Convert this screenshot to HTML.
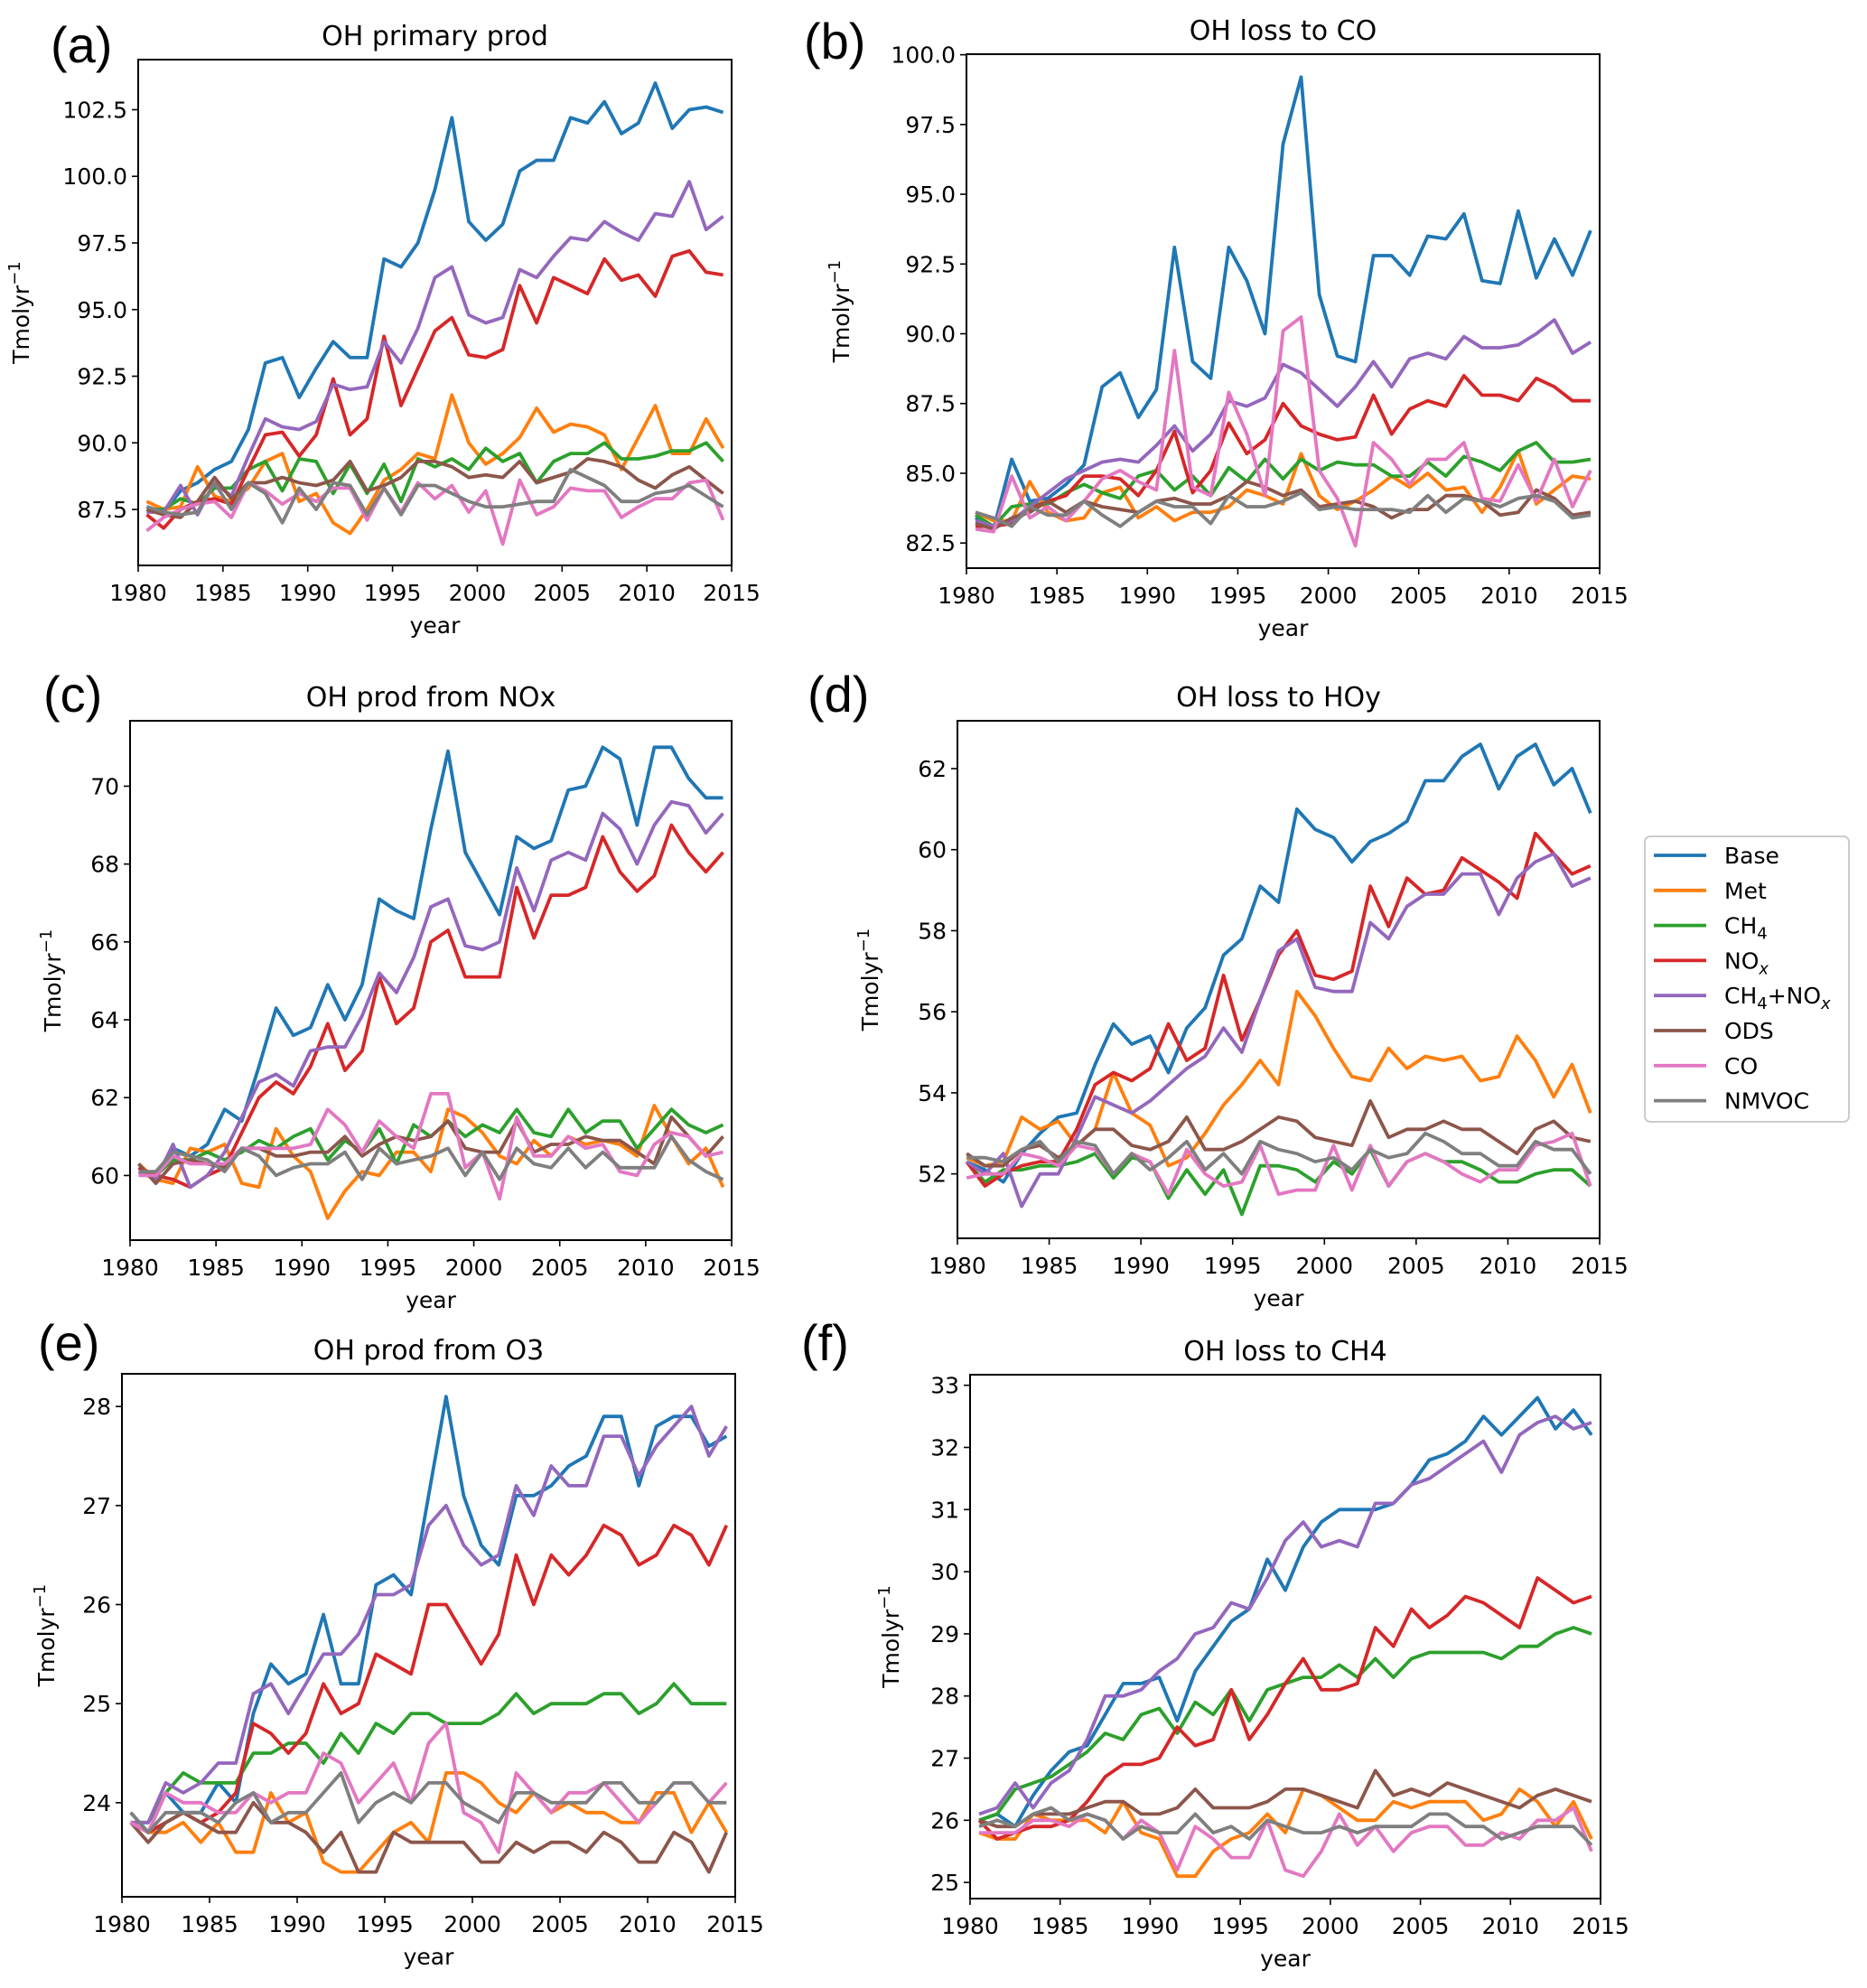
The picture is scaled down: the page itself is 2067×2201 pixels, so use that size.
<!DOCTYPE html>
<html><head><meta charset="utf-8"><style>
html,body{margin:0;padding:0;background:#fff;}
svg{display:block;font-family:"DejaVu Sans","Liberation Sans",sans-serif;}
</style></head><body>
<svg id="fig" width="2067" height="2201" viewBox="0 0 2067 2201" xmlns="http://www.w3.org/2000/svg"></svg>
<script>
const years=[];for(let i=0;i<35;i++)years.push(1980.5+i);
const seriesNames=["Base","Met","CH4","NOx","CH4+NOx","ODS","CO","NMVOC"];
const colors=["#1f77b4","#ff7f0e","#2ca02c","#d62728","#9467bd","#8c564b","#e377c2","#7f7f7f"];
const xTicks=[1980,1985,1990,1995,2000,2005,2010,2015];

const aBase=[87.6,87.4,88.2,88.5,89.0,89.3,90.5,93.0,93.2,91.7,92.8,93.8,93.2,93.2,96.9,96.6,97.5,99.5,102.2,98.3,97.6,98.2,100.2,100.6,100.6,102.2,102.0,102.8,101.6,102.0,103.5,101.8,102.5,102.6,102.4];
const aMet=[87.8,87.5,87.6,89.1,88.0,87.8,88.3,89.3,89.6,87.8,88.1,87.0,86.6,87.5,88.6,89.0,89.6,89.4,91.8,90.0,89.2,89.6,90.2,91.3,90.4,90.7,90.6,90.3,89.0,90.2,91.4,89.6,89.6,90.9,89.8];
const aCH4=[87.5,87.5,87.9,87.7,88.3,88.3,89.0,89.3,88.2,89.4,89.3,88.1,89.2,88.1,89.2,87.8,89.4,89.1,89.4,89.0,89.8,89.3,89.6,88.5,89.3,89.6,89.6,90.0,89.4,89.4,89.5,89.7,89.7,90.0,89.3];
const aNOx=[87.3,86.8,87.5,87.8,87.9,87.7,89.0,90.3,90.4,89.5,90.3,92.4,90.3,90.9,94.0,91.4,92.8,94.2,94.7,93.3,93.2,93.5,95.9,94.5,96.2,95.9,95.6,96.9,96.1,96.3,95.5,97.0,97.2,96.4,96.3];
const aCH4NOx=[87.4,87.4,88.4,87.3,88.5,88.0,89.5,90.9,90.6,90.5,90.8,92.2,92.0,92.1,93.8,93.0,94.3,96.2,96.6,94.8,94.5,94.7,96.5,96.2,97.0,97.7,97.6,98.3,97.9,97.6,98.6,98.5,99.8,98.0,98.5];
const aODS=[87.5,87.3,87.2,87.8,88.7,87.9,88.5,88.5,88.7,88.5,88.4,88.6,89.3,88.2,88.4,88.7,89.3,89.3,89.1,88.7,88.8,88.7,89.3,88.5,88.7,88.9,89.4,89.3,89.1,88.6,88.3,88.8,89.1,88.6,88.1];
const aCO=[86.7,87.2,87.5,87.7,87.8,87.2,88.5,88.2,87.7,88.1,87.8,88.3,88.3,87.1,88.3,87.4,88.5,87.9,88.4,87.4,88.2,86.2,88.6,87.3,87.6,88.3,88.2,88.2,87.2,87.6,87.9,87.9,88.5,88.6,87.1];
const aNMVOC=[87.6,87.4,87.3,87.4,88.5,87.5,88.5,88.1,87.0,88.3,87.5,88.5,88.4,87.3,88.3,87.3,88.4,88.4,88.1,87.8,87.6,87.6,87.7,87.8,87.8,89.0,88.7,88.4,87.8,87.8,88.1,88.2,88.4,88.0,87.6];

const bBase=[83.4,83.0,85.5,84.0,84.1,84.6,85.3,88.1,88.6,87.0,88.0,93.1,89.0,88.4,93.1,91.9,90.0,96.8,99.2,91.4,89.2,89.0,92.8,92.8,92.1,93.5,93.4,94.3,91.9,91.8,94.4,92.0,93.4,92.1,93.7];
const bMet=[83.6,83.3,83.3,84.7,83.6,83.3,83.4,84.3,84.5,83.4,83.8,83.3,83.6,83.6,83.8,84.4,84.2,83.9,85.7,84.2,83.7,84.0,84.4,84.9,84.5,85.0,84.4,84.5,83.6,84.5,85.8,83.9,84.4,84.9,84.8];
const bCH4=[83.5,83.1,83.8,83.9,83.9,84.3,84.6,84.3,84.1,84.9,85.1,84.4,84.9,84.2,85.2,84.7,85.5,84.8,85.5,85.1,85.4,85.3,85.3,84.9,84.9,85.4,84.9,85.6,85.4,85.1,85.8,86.1,85.4,85.4,85.5];
const bNOx=[83.1,83.1,83.2,83.7,84.0,84.2,84.9,84.9,84.8,84.2,85.1,86.5,84.3,85.1,86.8,85.7,86.2,87.5,86.7,86.4,86.2,86.3,87.8,86.4,87.3,87.6,87.4,88.5,87.8,87.8,87.6,88.4,88.1,87.6,87.6];
const bCH4NOx=[83.3,83.1,83.3,83.8,84.3,84.8,85.1,85.4,85.5,85.4,86.0,86.7,85.8,86.4,87.6,87.4,87.7,88.9,88.6,88.0,87.4,88.1,89.0,88.1,89.1,89.3,89.1,89.9,89.5,89.5,89.6,90.0,90.5,89.3,89.7];
const bODS=[83.2,83.0,83.4,83.6,84.0,83.6,84.0,83.8,83.7,83.6,84.0,84.1,83.9,83.9,84.2,84.7,84.5,84.2,84.4,83.8,83.9,84.0,83.8,83.4,83.7,83.7,84.2,84.2,84.0,83.5,83.6,84.4,84.1,83.5,83.6];
const bCO=[83.0,82.9,84.9,83.4,83.8,83.3,84.0,84.8,85.1,84.7,84.4,89.4,84.5,84.2,87.9,86.4,84.2,90.1,90.6,85.1,84.1,82.4,86.1,85.5,84.6,85.5,85.5,86.1,84.1,84.0,85.3,84.0,85.5,83.8,85.1];
const bNMVOC=[83.6,83.4,83.1,83.8,83.5,83.5,84.0,83.5,83.1,83.6,84.0,83.8,83.8,83.2,84.2,83.8,83.8,84.0,84.3,83.7,83.8,83.7,83.7,83.7,83.6,84.2,83.6,84.1,84.0,83.8,84.1,84.2,84.0,83.4,83.5];

const cBase=[60.2,60.0,60.7,60.5,60.8,61.7,61.4,62.8,64.3,63.6,63.8,64.9,64.0,64.9,67.1,66.8,66.6,68.9,70.9,68.3,67.5,66.7,68.7,68.4,68.6,69.9,70.0,71.0,70.7,69.0,71.0,71.0,70.2,69.7,69.7];
const cMet=[60.3,59.9,59.8,60.7,60.6,60.8,59.8,59.7,61.2,60.5,60.1,58.9,59.6,60.1,60.0,60.6,60.6,60.1,61.7,61.5,61.1,60.5,60.3,60.9,60.5,61.0,60.8,60.9,60.8,60.5,61.8,61.0,60.3,60.7,59.7];
const cCH4=[60.2,60.0,60.4,60.4,60.6,60.4,60.6,60.9,60.7,61.0,61.2,60.4,60.9,60.6,61.2,60.3,61.3,61.0,61.4,61.0,61.3,61.1,61.7,61.1,61.0,61.7,61.1,61.4,61.4,60.7,61.2,61.7,61.3,61.1,61.3];
const cNOx=[60.2,60.0,59.9,59.7,60.0,60.2,61.1,62.0,62.4,62.1,62.8,63.9,62.7,63.2,65.1,63.9,64.3,66.0,66.3,65.1,65.1,65.1,67.4,66.1,67.2,67.2,67.4,68.7,67.8,67.3,67.7,69.0,68.3,67.8,68.3];
const cCH4NOx=[60.1,59.9,60.8,59.7,60.0,60.6,61.5,62.4,62.6,62.3,63.2,63.3,63.3,64.1,65.2,64.7,65.6,66.9,67.1,65.9,65.8,66.0,67.9,66.8,68.1,68.3,68.1,69.3,68.9,68.0,69.0,69.6,69.5,68.8,69.3];
const cODS=[60.3,59.8,60.3,60.4,60.3,60.2,60.7,60.7,60.5,60.5,60.6,60.6,61.0,60.5,60.8,61.0,60.9,61.0,61.4,60.7,60.6,60.6,61.4,60.6,60.8,60.8,61.0,60.9,60.9,60.6,60.3,61.5,61.0,60.5,61.0];
const cCO=[60.0,60.0,60.5,60.3,60.3,60.3,60.7,60.7,60.7,60.7,60.8,61.7,61.3,60.6,61.4,61.0,60.7,62.1,62.1,60.2,60.6,59.4,61.5,60.5,60.5,61.0,60.7,60.8,60.1,60.0,60.8,61.1,61.0,60.5,60.6];
const cNMVOC=[60.1,60.1,60.6,60.5,60.4,60.1,60.7,60.5,60.0,60.2,60.3,60.3,60.6,59.9,60.7,60.3,60.4,60.5,60.7,60.0,60.6,59.9,60.7,60.3,60.2,60.7,60.2,60.6,60.2,60.2,60.2,61.0,60.4,60.1,59.9];

const dBase=[52.3,52.1,51.8,52.5,53.0,53.4,53.5,54.7,55.7,55.2,55.4,54.5,55.6,56.1,57.4,57.8,59.1,58.7,61.0,60.5,60.3,59.7,60.2,60.4,60.7,61.7,61.7,62.3,62.6,61.5,62.3,62.6,61.6,62.0,60.9];
const dMet=[52.4,52.2,52.3,53.4,53.1,53.3,52.7,53.1,54.5,53.5,53.2,52.2,52.4,53.0,53.7,54.2,54.8,54.2,56.5,55.9,55.1,54.4,54.3,55.1,54.6,54.9,54.8,54.9,54.3,54.4,55.4,54.8,53.9,54.7,53.5];
const dCH4=[52.3,51.8,52.1,52.1,52.2,52.2,52.3,52.5,51.9,52.4,52.3,51.4,52.1,51.5,52.1,51.0,52.2,52.2,52.1,51.8,52.3,52.0,52.6,51.7,52.3,52.5,52.3,52.3,52.1,51.8,51.8,52.0,52.1,52.1,51.7];
const dNOx=[52.3,51.7,52.0,52.2,52.3,52.3,53.1,54.2,54.5,54.3,54.6,55.7,54.8,55.1,56.9,55.3,56.3,57.4,58.0,56.9,56.8,57.0,59.1,58.1,59.3,58.9,59.0,59.8,59.5,59.2,58.8,60.4,59.9,59.4,59.6];
const dCH4NOx=[52.3,52.0,52.5,51.2,52.0,52.0,52.9,53.9,53.7,53.5,53.8,54.2,54.6,54.9,55.6,55.0,56.3,57.5,57.8,56.6,56.5,56.5,58.2,57.8,58.6,58.9,58.9,59.4,59.4,58.4,59.3,59.7,59.9,59.1,59.3];
const dODS=[52.5,52.2,52.2,52.6,52.7,52.4,52.7,53.1,53.1,52.7,52.6,52.8,53.4,52.6,52.6,52.8,53.1,53.4,53.3,52.9,52.8,52.7,53.8,52.9,53.1,53.1,53.3,53.1,53.1,52.8,52.5,53.1,53.3,52.9,52.8];
const dCO=[51.9,52.0,52.0,52.5,52.4,52.2,52.7,52.6,52.0,52.5,52.3,51.5,52.6,52.0,51.7,51.8,52.7,51.5,51.6,51.6,52.7,51.6,52.7,51.7,52.3,52.5,52.3,52.0,51.8,52.1,52.1,52.7,52.8,53.0,51.7];
const dNMVOC=[52.4,52.4,52.3,52.6,52.8,52.3,52.8,52.7,52.0,52.5,52.1,52.4,52.8,52.1,52.5,52.0,52.8,52.6,52.5,52.3,52.4,52.1,52.6,52.4,52.5,53.0,52.8,52.5,52.5,52.2,52.2,52.8,52.6,52.6,52.0];

const eBase=[23.9,23.7,24.1,23.9,23.9,24.2,24.0,24.9,25.4,25.2,25.3,25.9,25.2,25.2,26.2,26.3,26.1,27.1,28.1,27.1,26.6,26.4,27.1,27.1,27.2,27.4,27.5,27.9,27.9,27.2,27.8,27.9,27.9,27.6,27.7];
const eMet=[23.8,23.7,23.7,23.8,23.6,23.8,23.5,23.5,24.1,23.8,23.9,23.4,23.3,23.3,23.5,23.7,23.8,23.6,24.3,24.3,24.2,24.0,23.9,24.1,23.9,24.0,23.9,23.9,23.8,23.8,24.1,24.1,23.7,24.0,23.7];
const eCH4=[23.8,23.8,24.1,24.3,24.2,24.2,24.2,24.5,24.5,24.6,24.6,24.4,24.7,24.5,24.8,24.7,24.9,24.9,24.8,24.8,24.8,24.9,25.1,24.9,25.0,25.0,25.0,25.1,25.1,24.9,25.0,25.2,25.0,25.0,25.0];
const eNOx=[23.8,23.7,23.8,23.9,23.8,23.9,24.1,24.8,24.7,24.5,24.7,25.2,24.9,25.0,25.5,25.4,25.3,26.0,26.0,25.7,25.4,25.7,26.5,26.0,26.5,26.3,26.5,26.8,26.7,26.4,26.5,26.8,26.7,26.4,26.8];
const eCH4NOx=[23.8,23.8,24.2,24.1,24.2,24.4,24.4,25.1,25.2,24.9,25.2,25.5,25.5,25.7,26.1,26.1,26.2,26.8,27.0,26.6,26.4,26.5,27.2,26.9,27.4,27.2,27.2,27.7,27.7,27.3,27.6,27.8,28.0,27.5,27.8];
const eODS=[23.8,23.6,23.8,23.9,23.8,23.7,23.7,24.0,23.8,23.8,23.7,23.5,23.7,23.3,23.3,23.7,23.6,23.6,23.6,23.6,23.4,23.4,23.6,23.5,23.6,23.6,23.5,23.7,23.6,23.4,23.4,23.7,23.6,23.3,23.7];
const eCO=[23.8,23.7,24.1,24.0,24.0,23.9,23.9,24.1,24.0,24.1,24.1,24.5,24.4,24.0,24.2,24.4,24.0,24.6,24.8,23.9,23.8,23.5,24.3,24.1,23.9,24.1,24.1,24.2,24.0,23.8,24.0,24.2,24.2,24.0,24.2];
const eNMVOC=[23.9,23.7,23.9,23.9,23.9,23.8,24.0,24.1,23.8,23.9,23.9,24.1,24.3,23.8,24.0,24.1,24.0,24.2,24.2,24.0,23.9,23.8,24.1,24.1,24.0,24.0,24.0,24.2,24.2,24.0,24.0,24.2,24.2,24.0,24.0];

const fBase=[26.0,26.1,25.9,26.4,26.8,27.1,27.2,27.7,28.2,28.2,28.3,27.6,28.4,28.8,29.2,29.4,30.2,29.7,30.4,30.8,31.0,31.0,31.0,31.1,31.4,31.8,31.9,32.1,32.5,32.2,32.5,32.8,32.3,32.6,32.2];
const fMet=[25.8,25.7,25.7,26.1,26.0,26.0,26.0,25.8,26.3,25.8,25.7,25.1,25.1,25.5,25.7,25.8,26.1,25.8,26.5,26.4,26.2,26.0,26.0,26.3,26.2,26.3,26.3,26.3,26.0,26.1,26.5,26.3,25.9,26.3,25.7];
const fCH4=[26.0,26.1,26.5,26.6,26.7,26.9,27.1,27.4,27.3,27.7,27.8,27.4,27.9,27.7,28.1,27.6,28.1,28.2,28.3,28.3,28.5,28.3,28.6,28.3,28.6,28.7,28.7,28.7,28.7,28.6,28.8,28.8,29.0,29.1,29.0];
const fNOx=[26.0,25.7,25.8,25.9,25.9,26.0,26.3,26.7,26.9,26.9,27.0,27.5,27.2,27.3,28.1,27.3,27.7,28.2,28.6,28.1,28.1,28.2,29.1,28.8,29.4,29.1,29.3,29.6,29.5,29.3,29.1,29.9,29.7,29.5,29.6];
const fCH4NOx=[26.1,26.2,26.6,26.2,26.6,26.8,27.3,28.0,28.0,28.1,28.4,28.6,29.0,29.1,29.5,29.4,29.9,30.5,30.8,30.4,30.5,30.4,31.1,31.1,31.4,31.5,31.7,31.9,32.1,31.6,32.2,32.4,32.5,32.3,32.4];
const fODS=[26.0,25.9,25.9,26.1,26.1,26.1,26.2,26.3,26.3,26.1,26.1,26.2,26.5,26.2,26.2,26.2,26.3,26.5,26.5,26.4,26.3,26.2,26.8,26.4,26.5,26.4,26.6,26.5,26.4,26.3,26.2,26.4,26.5,26.4,26.3];
const fCO=[25.8,25.8,25.8,26.0,26.0,25.9,26.1,26.0,25.7,26.0,25.8,25.2,25.9,25.7,25.4,25.4,26.0,25.2,25.1,25.5,26.1,25.6,25.9,25.5,25.8,25.9,25.9,25.6,25.6,25.8,25.7,26.0,26.0,26.2,25.5];
const fNMVOC=[25.9,26.0,25.9,26.1,26.2,26.0,26.1,26.0,25.7,25.9,25.8,25.8,26.1,25.8,25.9,25.7,26.0,25.9,25.8,25.8,25.9,25.8,25.9,25.9,25.9,26.1,26.1,25.9,25.9,25.7,25.8,25.9,25.9,25.9,25.6];

const aTicks=[87.5,90.0,92.5,95.0,97.5,100.0,102.5];
const bTicks=[82.5,85.0,87.5,90.0,92.5,95.0,97.5,100.0];
const cTicks=[60,62,64,66,68,70];
const dTicks=[52,54,56,58,60,62];
const eTicks=[24,25,26,27,28];
const fTicks=[25,26,27,28,29,30,31,32,33];

const panels=[
 {id:"a",title:"OH primary prod",L:153,R:810,T:66,B:626,ymin:85.4,ymax:104.38,ticks:aTicks,dec:1,data:[aBase,aMet,aCH4,aNOx,aCH4NOx,aODS,aCO,aNMVOC],lx:56,ly:49,ylx:32},
 {id:"b",title:"OH loss to CO",L:1070,R:1771,T:60,B:629,ymin:81.6,ymax:100.02,ticks:bTicks,dec:1,data:[bBase,bMet,bCH4,bNOx,bCH4NOx,bODS,bCO,bNMVOC],lx:890,ly:45,ylx:940},
 {id:"c",title:"OH prod from NOx",L:144,R:810,T:798,B:1373,ymin:58.34,ymax:71.68,ticks:cTicks,dec:0,data:[cBase,cMet,cCH4,cNOx,cCH4NOx,cODS,cCO,cNMVOC],lx:48,ly:768,ylx:67},
 {id:"d",title:"OH loss to HOy",L:1060,R:1771,T:798,B:1371,ymin:50.41,ymax:63.18,ticks:dTicks,dec:0,data:[dBase,dMet,dCH4,dNOx,dCH4NOx,dODS,dCO,dNMVOC],lx:894,ly:768,ylx:972},
 {id:"e",title:"OH prod from O3",L:135,R:814,T:1521,B:2100,ymin:23.05,ymax:28.33,ticks:eTicks,dec:0,data:[eBase,eMet,eCH4,eNOx,eCH4NOx,eODS,eCO,eNMVOC],lx:42,ly:1486,ylx:60},
 {id:"f",title:"OH loss to CH4",L:1074,R:1772,T:1522,B:2102,ymin:24.74,ymax:33.17,ticks:fTicks,dec:0,data:[fBase,fMet,fCH4,fNOx,fCH4NOx,fODS,fCO,fNMVOC],lx:887,ly:1486,ylx:995}
];
const NS="http://www.w3.org/2000/svg";
const svg=document.getElementById("fig");
function mk(tag,attrs,parent,text){const e=document.createElementNS(NS,tag);for(const k in attrs)e.setAttribute(k,attrs[k]);if(text!==undefined)e.textContent=text;(parent||svg).appendChild(e);return e;}

panels.forEach(p=>{
  const g=mk("g",{});
  
  
  const xs=v=>p.L+(v-1980)/35*(p.R-p.L);
  const ys=v=>p.B-(v-p.ymin)/(p.ymax-p.ymin)*(p.B-p.T);
  p.data.forEach((arr,si)=>{
    const pts=arr.map((v,i)=>xs(years[i]).toFixed(1)+","+ys(v).toFixed(1)).join(" ");
    const pl=mk("polyline",{points:pts,fill:"none",stroke:colors[si],"stroke-width":3.8,"stroke-linejoin":"round"},g);
    
    
  });
  const fr=mk("rect",{x:p.L,y:p.T,width:p.R-p.L,height:p.B-p.T,fill:"none",stroke:"#000","stroke-width":2},g);
  
  
  xTicks.forEach(t=>{
    const x=xs(t);
    mk("line",{x1:x,x2:x,y1:p.B,y2:p.B+7,stroke:"#000","stroke-width":1.6},g);
    const tl=mk("text",{x:x,y:p.B+39,"text-anchor":"middle","font-size":25,fill:"#000"},g,String(t));
    
    
  });
  p.ticks.forEach(t=>{
    const y=ys(t);
    mk("line",{x1:p.L-7,x2:p.L,y1:y,y2:y,stroke:"#000","stroke-width":1.6},g);
    const tl=mk("text",{x:p.L-12,y:y+9,"text-anchor":"end","font-size":25,fill:"#000"},g,t.toFixed(p.dec));
    
    
  });
  const xl=mk("text",{x:(p.L+p.R)/2,y:p.B+75,"text-anchor":"middle","font-size":25},g,"year");
  
  
  const cy=(p.T+p.B)/2;
  const yl=mk("text",{x:p.ylx,y:cy,"text-anchor":"middle","font-size":25,transform:"rotate(-90 "+p.ylx+" "+cy+")"},g);
  
  
  yl.appendChild(document.createTextNode("Tmolyr"));
  mk("tspan",{dy:-10,"font-size":18},yl,"−1");
  const ti=mk("text",{x:(p.L+p.R)/2,y:p.T-16,"text-anchor":"middle","font-size":30},g,p.title);
  
  
  const pl=mk("text",{x:p.lx,y:p.ly+20,"font-size":56,"font-family":"Liberation Sans, sans-serif"},g,"("+p.id+")");
  
  
});
const lg=mk("g",{});


mk("rect",{x:1821,y:926,width:226,height:316,rx:6,fill:"#fff",stroke:"#ccc","stroke-width":2},lg);
const labels=[["Base"],["Met"],["CH","4",""],["NO","x",""],["CH","4","+NO","x"],["ODS"],["CO"],["NMVOC"]];
labels.forEach((lab,i)=>{
  const y=947+i*38.8;
  const ln=mk("line",{x1:1831,x2:1889,y1:y,y2:y,stroke:colors[i],"stroke-width":3.8},lg);
  
  
  const t=mk("text",{x:1909,y:y+9,"font-size":25},lg);
  
  
  if(lab.length===1){t.textContent=lab[0];}
  else{
    t.appendChild(document.createTextNode(lab[0]));
    mk("tspan",{dy:6,"font-size":18,"font-style":lab[1]==="x"?"italic":"normal"},t,lab[1]);
    if(lab.length>=3 && lab[2]){mk("tspan",{dy:-6,"font-size":25},t,lab[2]);}
    if(lab.length===4){mk("tspan",{dy:6,"font-size":18,"font-style":"italic"},t,lab[3]);}
  }
});
</script>
</body></html>
